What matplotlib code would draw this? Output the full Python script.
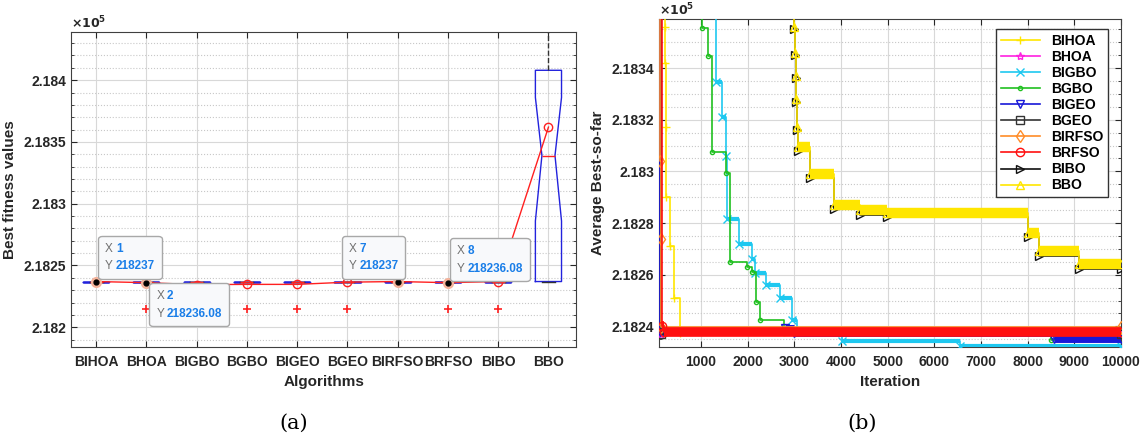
import numpy as np
import matplotlib
matplotlib.use('Agg')
import matplotlib.pyplot as plt
from matplotlib.ticker import MultipleLocator, FuncFormatter
from matplotlib.offsetbox import TextArea, HPacker, AnnotationBbox

plt.rcParams['font.family'] = ['Liberation Sans', 'DejaVu Sans']
plt.rcParams['font.weight'] = 'bold'
plt.rcParams['axes.labelweight'] = 'bold'

algos = ['BIHOA', 'BHOA', 'BIGBO', 'BGBO', 'BIGEO', 'BGEO', 'BIRFSO', 'BRFSO', 'BIBO', 'BBO']

# ---- (a) box plot of best fitness values ----
med    = [218237, 218237, 218237, 218237, 218237, 218237, 218237, 218237, 218237, 218339]
q1     = [218237, 218237, 218237, 218237, 218237, 218237, 218237, 218237, 218237, 218237]
q3     = [218237, 218237, 218237, 218237, 218237, 218237, 218237, 218237, 218237, 218408]
whislo = [218237, 218237, 218237, 218237, 218237, 218237, 218237, 218237, 218237, 218237]
whishi = [218237, 218237, 218237, 218237, 218237, 218237, 218237, 218237, 218237, 218470]
ci_lo  = [218237, 218237, 218237, 218237, 218237, 218237, 218237, 218237, 218237, 218286]
ci_hi  = [218237, 218237, 218237, 218237, 218237, 218237, 218237, 218237, 218237, 218386]
fliers = [[], [218214.5], [], [218214.5], [218214.5], [218214.5], [], [218214.5], [218214.5], []]
means  = [218237, 218236.08, 218234.5, 218234.7, 218234.7, 218236.5, 218237, 218236.08, 218237, 218362]

# data tips shown in the figure
tip_x = [1, 2, 7, 8]
tip_y = [218237, 218236.08, 218237, 218236.08]
tip_off = [(9, 39), (10, -7), (-49, 39), (9, 38)]

# ---- (b) convergence curves (iteration, average best-so-far) ----
bihoa_it  = [100, 230, 240, 250, 260, 330, 420, 550, 10000]
bihoa_val = [218420, 218356, 218342, 218317, 218290, 218271, 218251, 218237.5, 218237.5]
bhoa_it   = [100, 150, 10000]
bhoa_val  = [218420, 218237.2, 218237.2]
bigbo_it  = [100, 1320, 1450, 1540, 1560, 1820, 2100, 2150, 2400, 2700, 2960, 3060, 4030, 6550, 10000]
bigbo_val = [218420, 218334.5, 218321, 218306, 218281.5, 218272, 218266, 218260.5, 218256, 218251,
             218242.5, 218238, 218234.5, 218232.3, 218232.3]
bgbo_it   = [100, 1020, 1150, 1240, 1540, 1620, 1990, 2100, 2180, 2270, 2780, 8500, 10000]
bgbo_val  = [218420, 218355.5, 218344.5, 218307.5, 218299.5, 218265, 218263, 218261, 218249.5,
             218242.5, 218237.5, 218234.8, 218234.8]
bigeo_it  = [100, 130, 2800, 3000, 8570, 10000]
bigeo_val = [218420, 218238, 218239.5, 218237.5, 218235, 218235]
bgeo_it   = [100, 140, 10000]
bgeo_val  = [218420, 218237, 218237]
birfso_it  = [100, 130, 135, 145, 10000]
birfso_val = [218420, 218304, 218274, 218239.8, 218239.8]
brfso_it  = [100, 160, 200, 10000]
brfso_val = [218420, 218240, 218237.8, 218237.8]
bbo_it    = [100, 3000, 3015, 3030, 3045, 3060, 3080, 3330, 3850, 4400, 4980, 8000, 8250, 9100, 10000]
bbo_val   = [218420, 218356, 218346, 218337, 218328, 218317, 218309.5, 218299, 218287, 218285,
             218284, 218276.3, 218269, 218264, 218264]
bibo_it   = [100, 3000, 3015, 3030, 3045, 3060, 3080, 3330, 3850, 4400, 4980, 8000, 8250, 9100, 10000]
bibo_val  = [218420, 218355, 218345, 218336, 218327, 218316, 218307.8, 218297.3, 218285.3, 218283.3,
             218282.3, 218274.6, 218267.3, 218262.3, 218262.3]

curves = [
    ('BIHOA', bihoa_it, bihoa_val, '#ffe600', '+', 0),
    ('BHOA', bhoa_it, bhoa_val, '#ff20e0', '*', 0),
    ('BIGBO', bigbo_it, bigbo_val, '#1ec8f0', 'x', 3),
    ('BGBO', bgbo_it, bgbo_val, '#20c020', '.', 0),
    ('BIGEO', bigeo_it, bigeo_val, '#1818d8', 'v', 5),
    ('BGEO', bgeo_it, bgeo_val, '#333333', 's', 0),
    ('BIRFSO', birfso_it, birfso_val, '#ff8c28', 'd', 0),
    ('BRFSO', brfso_it, brfso_val, '#ff1010', 'o', 7),
    ('BIBO', bibo_it, bibo_val, '#111111', '>', 0),
    ('BBO', bbo_it, bbo_val, '#ffe600', '^', 7.5),
]

txt = '#262626'
fmt = FuncFormatter(lambda v, p: '{:g}'.format(v / 1e5))

fig = plt.figure(figsize=(11.46, 4.45), dpi=100)
ax1 = fig.add_axes([0.062, 0.2202, 0.4407, 0.7079])
ax2 = fig.add_axes([0.575, 0.2202, 0.4031, 0.7371])

for ax in (ax1, ax2):
    ax.tick_params(which='both', direction='in', top=True, right=True, colors=txt, labelsize=10)
    ax.tick_params(which='major', length=4)
    ax.tick_params(which='minor', length=2)
    ax.tick_params(axis='x', pad=6)
    for s in ax.spines.values():
        s.set_color('#404040')
    ax.yaxis.set_major_formatter(fmt)
    ax.grid(True, which='major', color='#d8d8d8', lw=0.8)
    ax.grid(True, which='minor', axis='y', ls=':', color='#c8c8c8', lw=0.8)
    ax.set_axisbelow(True)

# (a)
stats = []
for i in range(len(algos)):
    stats.append(dict(med=med[i], q1=q1[i], q3=q3[i], whislo=whislo[i], whishi=whishi[i],
                      fliers=fliers[i], cilo=ci_lo[i], cihi=ci_hi[i]))
ax1.bxp(stats, positions=np.arange(1, 11), widths=0.52, shownotches=True, capwidths=0.26,
        boxprops=dict(color='#2222dd', lw=1),
        medianprops=dict(color='#ff2020', lw=1),
        whiskerprops=dict(color='#333333', lw=1, ls='--'),
        capprops=dict(color='#333333', lw=1),
        flierprops=dict(marker='+', markeredgecolor='#ff2020', markersize=6, mew=1.2))
ax1.plot(np.arange(1, 11), means, color='#ff2020', lw=1, marker='o', mfc='none',
         mec='#ff2020', ms=6, zorder=4)
ax1.plot(tip_x, tip_y, 'o', color='#f4b49c', ms=7, zorder=5)
ax1.plot(tip_x, tip_y, 'o', color='black', ms=3.5, zorder=6)

for x, y, (dx, dy) in zip(tip_x, tip_y, tip_off):
    ys = '{:g}'.format(y) if y == int(y) else '{:.2f}'.format(y)
    lab = TextArea('X\nY', textprops=dict(color='#707070', fontsize=8.5, linespacing=1.65,
                                          fontweight='normal'))
    val = TextArea('{}\n{}'.format(x, ys), textprops=dict(color='#1a7ee8', fontsize=8.5,
                                                          linespacing=1.65, fontweight='bold'))
    pack = HPacker(children=[lab, val], pad=0, sep=2, align='top')
    ab = AnnotationBbox(pack, (x, y), xybox=(dx, dy), xycoords='data', boxcoords='offset pixels',
                        box_alignment=(0, 1), pad=0.5, frameon=True, zorder=7,
                        bboxprops=dict(boxstyle='round,pad=0.5,rounding_size=0.25',
                                       fc='#f8f9fb', ec='#a8a8a8', lw=1))
    ax1.add_artist(ab)

ax1.set_xlim(0.5, 10.55)
ax1.set_ylim(218184, 218439)
ax1.set_xticks(np.arange(1, 11))
ax1.set_xticklabels(algos)
ax1.yaxis.set_major_locator(MultipleLocator(50))
ax1.yaxis.set_minor_locator(MultipleLocator(10))
ax1.set_xlabel('Algorithms', fontsize=11, color=txt, labelpad=4)
ax1.set_ylabel('Best fitness values', fontsize=11, color=txt, labelpad=5)
ax1.text(0.0, 1.012, r'$\times10^{5}$', transform=ax1.transAxes, fontsize=9, color=txt)

# (b)
for k, (name, it, val, c, m, band) in enumerate(curves):
    ax2.step(it, val, where='post', color=c, lw=1.2, marker=m, ms=6, mfc='none',
             mec=c, label=name, zorder=3 + k)
    if band:
        ax2.hlines(val[:-1], it[:-1], it[1:], colors=c, lw=band, zorder=3 + k)

ax2.set_xlim(100, 10000)
ax2.set_ylim(218232, 218359)
ax2.xaxis.set_major_locator(MultipleLocator(1000))
ax2.yaxis.set_major_locator(MultipleLocator(20))
ax2.yaxis.set_minor_locator(MultipleLocator(5))
ax2.set_xlabel('Iteration', fontsize=11, color=txt, labelpad=4)
ax2.set_ylabel('Average Best-so-far', fontsize=11, color=txt, labelpad=5)
ax2.text(0.0, 1.012, r'$\times10^{5}$', transform=ax2.transAxes, fontsize=9, color=txt)
leg = ax2.legend(loc='upper right', bbox_to_anchor=(0.972, 0.97), borderaxespad=0, numpoints=1,
                 fontsize=10, handlelength=2.8, labelspacing=0.15, fancybox=False,
                 edgecolor='#333333', framealpha=1, borderpad=0.35)
leg.get_frame().set_linewidth(1)
leg.set_zorder(20)

fig.text(0.256, 0.049, '(a)', fontsize=15, family='DejaVu Serif', fontweight='normal',
         ha='center', va='center')
fig.text(0.752, 0.049, '(b)', fontsize=15, family='DejaVu Serif', fontweight='normal',
         ha='center', va='center')

fig.savefig('out.png', dpi=100)
